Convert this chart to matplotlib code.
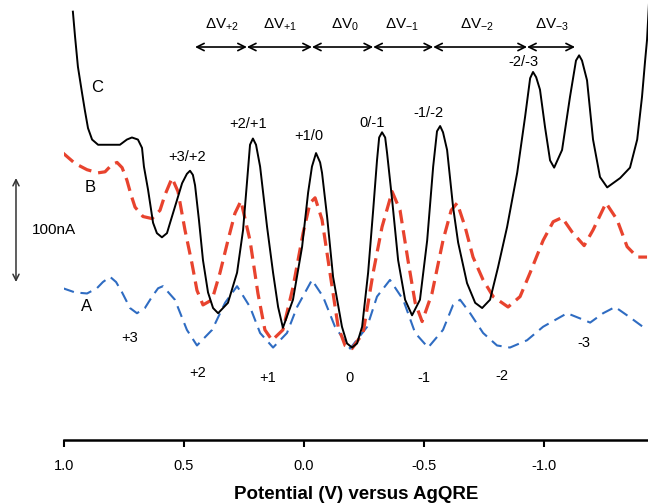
import matplotlib
matplotlib.use("Agg")
import matplotlib.pyplot as plt

plt.rcParams['font.family'] = ['Liberation Sans', 'DejaVu Sans']
plt.rcParams['mathtext.fontset'] = 'custom'
plt.rcParams['mathtext.rm'] = 'Liberation Sans'
plt.rcParams['mathtext.it'] = 'Liberation Sans'

# ---- data: potential (V vs AgQRE) and current (nA, arbitrary offset) ----
c_potential = [0.963, 0.954, 0.942, 0.925, 0.913, 0.900, 0.883, 0.858, 0.808, 0.767,
               0.738, 0.717, 0.692, 0.675, 0.667, 0.650, 0.629, 0.613, 0.592, 0.571,
               0.558, 0.529, 0.508, 0.488, 0.475, 0.463, 0.454, 0.438, 0.421, 0.400,
               0.379, 0.358, 0.317, 0.279, 0.254, 0.238, 0.225, 0.213, 0.200, 0.183,
               0.154, 0.129, 0.108, 0.088, 0.046, 0.008, -0.017, -0.033, -0.050, -0.067,
               -0.075, -0.096, -0.121, -0.158, -0.179, -0.200, -0.221, -0.242, -0.267, -0.288,
               -0.304, -0.313, -0.325, -0.338, -0.346, -0.367, -0.392, -0.421, -0.450, -0.483,
               -0.513, -0.538, -0.554, -0.567, -0.579, -0.596, -0.621, -0.642, -0.679, -0.713,
               -0.742, -0.775, -0.808, -0.846, -0.888, -0.921, -0.942, -0.954, -0.967, -0.983,
               -1.004, -1.025, -1.042, -1.075, -1.108, -1.133, -1.146, -1.158, -1.179, -1.204,
               -1.233, -1.263, -1.317, -1.358, -1.388, -1.408, -1.421, -1.429, -1.440]
c_current = [409, 385, 356, 331, 314, 297, 286, 281, 281, 281,
             286, 288, 286, 278, 260, 238, 206, 196, 192, 196,
             206, 228, 244, 253, 256, 252, 242, 209, 170, 139,
             124, 119, 129, 158, 199, 244, 281, 287, 281, 260,
             202, 158, 125, 105, 132, 183, 235, 260, 273, 264,
             254, 212, 154, 106, 90, 86, 90, 106, 158, 218,
             266, 288, 293, 288, 273, 228, 170, 132, 117, 132,
             189, 260, 294, 299, 293, 276, 221, 187, 148, 129,
             124, 132, 163, 202, 254, 308, 345, 351, 346, 334,
             298, 266, 259, 276, 327, 362, 367, 362, 343, 286,
             250, 240, 249, 259, 286, 327, 362, 382, 430]

b_potential = [1.004, 0.954, 0.904, 0.858, 0.829, 0.800, 0.779, 0.758, 0.738, 0.721,
               0.704, 0.671, 0.633, 0.600, 0.579, 0.550, 0.525, 0.496, 0.467, 0.446,
               0.421, 0.383, 0.350, 0.317, 0.288, 0.263, 0.225, 0.192, 0.163, 0.133,
               0.088, 0.046, 0.004, -0.025, -0.046, -0.075, -0.108, -0.142, -0.171, -0.200,
               -0.246, -0.288, -0.325, -0.367, -0.400, -0.433, -0.463, -0.492, -0.533, -0.579,
               -0.613, -0.638, -0.671, -0.704, -0.746, -0.788, -0.850, -0.900, -0.942, -0.996,
               -1.038, -1.075, -1.117, -1.167, -1.204, -1.258, -1.304, -1.346, -1.388, -1.429]
b_current = [273, 263, 257, 254, 255, 262, 264, 259, 247, 233,
             221, 212, 210, 218, 233, 249, 236, 199, 167, 141,
             127, 132, 158, 189, 215, 227, 189, 138, 103, 93,
             103, 144, 196, 225, 230, 209, 158, 106, 88, 85,
             100, 158, 202, 236, 218, 170, 129, 111, 138, 189,
             218, 225, 202, 173, 151, 135, 125, 135, 158, 189,
             207, 211, 197, 184, 199, 225, 209, 183, 173, 173]

a_potential = [1.004, 0.954, 0.904, 0.863, 0.838, 0.808, 0.783, 0.758, 0.725, 0.696,
               0.663, 0.633, 0.608, 0.588, 0.538, 0.488, 0.446, 0.383, 0.329, 0.279,
               0.225, 0.183, 0.129, 0.071, 0.029, -0.033, -0.079, -0.129, -0.192, -0.263,
               -0.304, -0.358, -0.413, -0.463, -0.517, -0.579, -0.621, -0.650, -0.692, -0.746,
               -0.804, -0.858, -0.929, -0.996, -1.096, -1.150, -1.192, -1.246, -1.296, -1.358,
               -1.429]
a_current = [143, 139, 138, 143, 149, 154, 149, 139, 124, 119,
             124, 135, 143, 145, 132, 103, 88, 103, 129, 145,
             125, 100, 86, 100, 125, 151, 135, 106, 85, 106,
             135, 151, 132, 100, 86, 103, 127, 132, 119, 100,
             88, 86, 93, 106, 119, 114, 110, 119, 125, 115,
             103]

peak_labels = ['+3/+2', '+2/+1', '+1/0', '0/-1', '-1/-2', '-2/-3']
peak_label_x = [0.488, 0.233, -0.021, -0.283, -0.517, -0.913]
peak_label_y = [269, 301, 289, 302, 312, 361]

charge_labels = ['+3', '+2', '+1', '0', '-1', '-2', '-3']
charge_label_x = [0.725, 0.442, 0.150, -0.188, -0.500, -0.825, -1.167]
charge_label_y = [95, 62, 57, 57, 57, 59, 90]

dv_labels = [r'$\Delta$V$_{+2}$', r'$\Delta$V$_{+1}$', r'$\Delta$V$_{0}$',
             r'$\Delta$V$_{-1}$', r'$\Delta$V$_{-2}$', r'$\Delta$V$_{-3}$']
dv_bounds = [0.454, 0.238, -0.033, -0.288, -0.538, -0.929, -1.129]
dv_label_x = [0.342, 0.100, -0.171, -0.408, -0.721, -1.033]
dv_arrow_y = 375
dv_label_y = 396

curve_names = ['C', 'B', 'A']
curve_name_x = [0.863, 0.892, 0.908]
curve_name_y = [336, 240, 125]

xticks = [1.0, 0.5, 0.0, -0.5, -1.0]
xtick_labels = ['1.0', '0.5', '0.0', '-0.5', '-1.0']

scale_bar_x = 1.2
scale_bar_y = [149, 249]
scale_bar_label = '100nA'

# ---- figure ----
fig = plt.figure(figsize=(6.48, 5.04), dpi=100)
ax = fig.add_axes([64 / 648, 64 / 504, 584 / 648, 440 / 504])

red = '#e8432e'
blue = '#2f6cc2'

ax.plot(a_potential, a_current, color=blue, lw=1.5, dashes=(5.5, 3.2))
ax.plot(b_potential, b_current, color=red, lw=2.3, dashes=(4.2, 2.2))
ax.plot(c_potential, c_current, color='black', lw=1.4)

ax.set_xlim(1.0, -1.433)
ax.set_ylim(-2.9, 420.2)

for s in ['left', 'right', 'top']:
    ax.spines[s].set_visible(False)
ax.spines['bottom'].set_linewidth(1.8)
ax.set_yticks([])
ax.set_xticks(xticks)
ax.set_xticklabels(xtick_labels, fontsize=10.5)
ax.tick_params(axis='x', direction='out', length=5, width=1.5, pad=9)
ax.set_xlabel('Potential (V) versus AgQRE', fontsize=13.5, fontweight='bold', labelpad=9)

for t, x, y in zip(peak_labels, peak_label_x, peak_label_y):
    ax.text(x, y, t, ha='center', va='center', fontsize=10.5)
for t, x, y in zip(charge_labels, charge_label_x, charge_label_y):
    ax.text(x, y, t, ha='center', va='center', fontsize=10.5)
for t, x, y in zip(curve_names, curve_name_x, curve_name_y):
    ax.text(x, y, t, ha='center', va='center', fontsize=12)

for i in range(len(dv_labels)):
    ax.annotate('', xy=(dv_bounds[i + 1], dv_arrow_y), xytext=(dv_bounds[i], dv_arrow_y),
                arrowprops=dict(arrowstyle='<->', lw=1.2, color='black',
                                shrinkA=0, shrinkB=0, mutation_scale=13))
    ax.text(dv_label_x[i], dv_label_y, dv_labels[i], ha='center', va='center', fontsize=11)

ax.annotate('', xy=(scale_bar_x, scale_bar_y[1]), xytext=(scale_bar_x, scale_bar_y[0]),
            arrowprops=dict(arrowstyle='<->', lw=1.1, color='#333333',
                            shrinkA=0, shrinkB=0, mutation_scale=11),
            annotation_clip=False)
ax.text(1.133, sum(scale_bar_y) / 2, scale_bar_label, ha='left', va='center',
        fontsize=11, clip_on=False)

fig.savefig('out.png', dpi=100)
